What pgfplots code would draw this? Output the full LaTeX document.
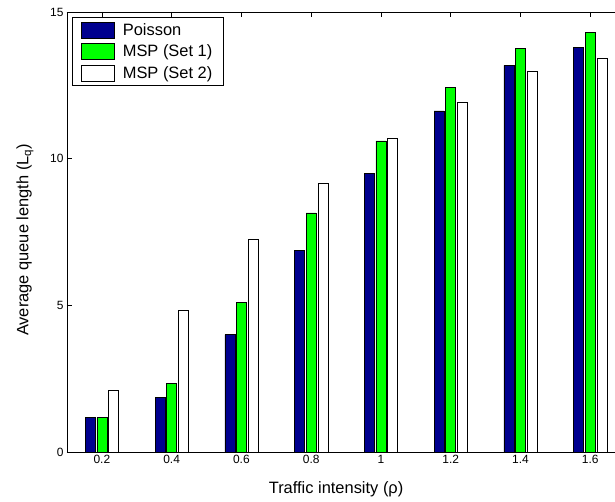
\documentclass[border=0pt]{standalone}
\usepackage{pgfplots}
\pgfplotsset{compat=1.18}
\usepackage{fontspec}
\setmainfont{Liberation Sans}
\definecolor{navy}{rgb}{0,0,0.56}
\definecolor{mgreen}{rgb}{0,1,0}
\begin{document}
\begin{tikzpicture}
\begin{axis}[
  scale only axis, width=548bp, height=440bp,
  xmin=0.1, xmax=1.671, ymin=0, ymax=15,
  axis x line*=box, axis y line*=left,
  axis line style={line width=0.8bp, black},
  xtick={0.2,0.4,0.6,0.8,1.0,1.2,1.4,1.6},
  xticklabels={0.2,0.4,0.6,0.8,1,1.2,1.4,1.6},
  ytick={0,5,10,15},
  tick align=inside, major tick length=5bp,
  tick style={line width=0.6bp, black},
  /pgf/number format/assume math mode=true,
  tick label style={font=\fontsize{12}{14}\selectfont},
  xlabel={Traffic intensity (ρ)},
  ylabel={Average queue length (L\textsubscript{q})},
  label style={font=\fontsize{16.5}{19}\selectfont},
  xlabel style={at={(axis description cs:0.491,-0.084)}, anchor=center},
  ylabel style={at={(axis description cs:-0.0766,0.482)}, anchor=center},
  legend image code/.code={\draw[#1, line width=0.5bp] (0bp,-8bp) rectangle (33bp,8bp);},
  legend cell align=left,
  legend style={at={(axis description cs:0.0091,0.9886)}, anchor=north west,
    draw=black, line width=0.7bp, font=\fontsize{16.5}{19}\selectfont,
    inner xsep=9bp, inner ysep=4bp, column sep=6bp, row sep=4bp,
    nodes={inner sep=2bp}},
]
\addplot[ybar, bar width=0.0286, bar shift=-0.0333, fill=navy, draw=black, line width=0.5bp]
  coordinates {(0.2,1.17) (0.4,1.85) (0.6,4.00) (0.8,6.88) (1.0,9.51) (1.2,11.63) (1.4,13.18) (1.6,13.80)};
\addplot[ybar, bar width=0.0286, bar shift=0, fill=mgreen, draw=black, line width=0.5bp]
  coordinates {(0.2,1.17) (0.4,2.35) (0.6,5.10) (0.8,8.15) (1.0,10.61) (1.2,12.44) (1.4,13.76) (1.6,14.30)};
\addplot[ybar, bar width=0.0286, bar shift=0.0333, fill=white, draw=black, line width=0.5bp]
  coordinates {(0.2,2.10) (0.4,4.84) (0.6,7.25) (0.8,9.15) (1.0,10.69) (1.2,11.93) (1.4,12.98) (1.6,13.42)};
\legend{Poisson, MSP (Set 1), MSP (Set 2)}
\coordinate (O) at (rel axis cs:0,0);
\coordinate (T) at (rel axis cs:1,1);
\end{axis}
\pgfresetboundingbox
\path[use as bounding box] ([xshift=-67bp,yshift=-50bp]O) rectangle ([yshift=12bp]T);
\end{tikzpicture}
\end{document}
